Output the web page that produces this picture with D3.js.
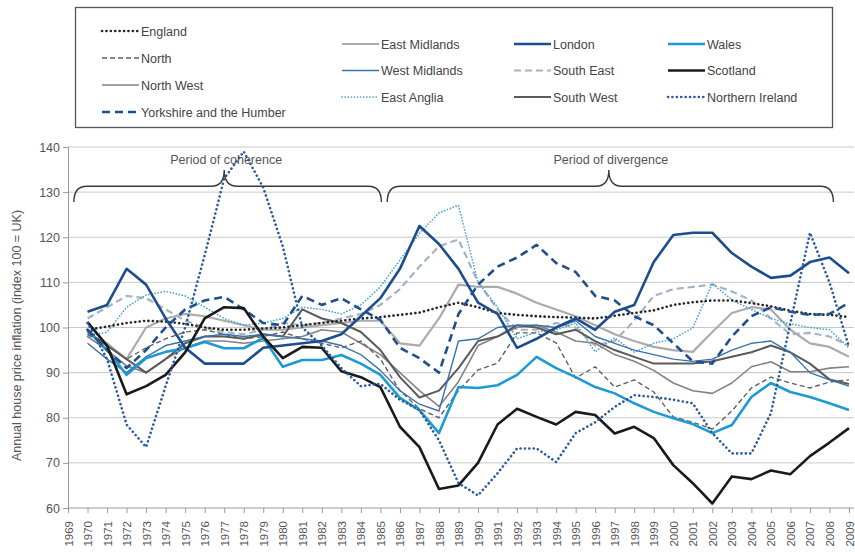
<!DOCTYPE html>
<html>
<head>
<meta charset="utf-8">
<script src="https://cdn.jsdelivr.net/npm/d3@7"></script>
<style>
  body { margin: 0; background: #fff; }
  svg text { font-family: "Liberation Sans", Arial, sans-serif; }
</style>
</head>
<body>
<div id="chart"></div>
<script>
// ---- data (index, 100 = UK) ----
const years = d3.range(1970, 2010);
const tickYears = d3.range(1969, 2010);
const yTicks = [60, 70, 80, 90, 100, 110, 120, 130, 140];

const england = [99.5,100.2,101,101.5,101.3,100.8,100,99.5,99.5,99.8, 100,100.5,101,101.5,102,102.3,102.8,103.3,104.5,105.5, 104.5,103.2,102.8,102.5,102.3,102.2,102,102.6,103.2,103.8, 105,105.6,106,106,105.4,104.7,103.7,103,102.8,102.3];
const north = [98.5,96,93,95.5,97.5,99,99.5,98.5,97.5,98, 99,97.5,96.5,95.5,97,93,86,82,80,86, 90.6,92.1,98.8,98.8,96.6,88.8,91.3,86.8,88.4,85.7, 80.2,79,77.5,81.5,86.6,89,87.7,86.6,87.9,88.4];
const northWest = [98,95,91.5,90,93,95.5,97,97,96.5,97, 97.5,98,99.5,99,96.5,94,90,86,82.5,88, 96,98,100,100.5,99,97,96.5,94,92.5,90.5, 87.7,86,85.4,87.7,91.3,92.4,90.2,90.2,91,91.3];
const yorkshire = [99.5,95,91,95,100,104,106,106.8,104,101, 100.5,107,105,106.5,104,101.7,95.5,93.2,90,103, 109.5,113.5,115.5,118.3,114.3,112.3,107,106,102.5,100.5, 96.5,92.5,92,98,102.5,104.5,103.5,102.8,103,105.5];
const eastMidlands = [98.5,96.5,93,100,102,103,102.5,101.5,100.5,99.5, 99.5,100,100.5,101,101.5,101.5,96.5,96,102,109.5, 109,109,107.5,105.5,104,102.5,100.5,98.5,97,95.7, 95,94.6,99,103.2,104.5,104,99.5,96.5,95.7,93.5];
const westMidlands = [96.5,93,90,93.5,96,97,98,98.5,98,98.5, 98,97.5,97,96,94,90.5,86,83,81.5,97, 97.5,100,100.5,100.5,100,101.5,98,96.5,95,94, 93,92.5,93,95,96.5,97,94.5,90,88.4,87];
const eastAnglia = [98,99,104.5,107.2,108,107,104.5,102,100.5,101, 102,104.5,104,103,105,109,115,120.9,125.4,127.1, 110,104.5,97.5,99,99.5,101,94.6,97.7,94.5,96.5, 97.5,99.9,109.8,106.1,104,102,100.8,100,99.5,95.5];
const london = [103.5,105,113,109.5,102,95.5,92,92,92,95.5, 96,96.5,97,98.5,102.5,106.5,113,122.5,118.5,113, 105.5,103,95.5,97.5,100,102,99.5,103.5,105,114.5, 120.5,121,121,116.5,113.5,111,111.5,114.5,115.5,112];
const southEast = [102,104.5,107,106.5,104,101.5,100,99,98.5,99.5, 101,100.5,101,102,103,105,108.5,113.5,118,119.5, 110,104,99.5,99.5,101,100,96,97,101.5,107, 108.5,109,109.5,108,106,102,98.5,98.8,98,96];
const southWest = [99,96,93,90,93,96.5,98,98,97.5,98.5, 98,104,102,101,99,95,89,84.5,86,91, 97,98,100.5,100,98.5,99.5,97,95,93.5,92, 92,92,92.5,93.5,94.5,96,94.5,92,88.5,87.5];
const wales = [99.4,95,89.5,93.2,94.6,95.4,96.8,95.4,95.4,97.7, 91.3,92.8,92.8,93.9,92,89.5,84.4,81.7,76.6,86.8, 86.6,87.2,89.5,93.5,91,89,86.8,85.4,83.2,81.3, 79.9,78.6,76.6,78.4,84.6,87.7,85.7,84.6,83.2,81.7];
const scotland = [101.2,96,85.2,87,89.5,94.5,102,104.5,104.3,98, 93.2,95.7,95.5,90.3,89,86.8,78,73.5,64.2,65, 70,78.5,82,80.2,78.5,81.3,80.6,76.5,78,75.5, 69.5,65.5,61,67,66.4,68.3,67.5,71.5,74.5,77.7];
const northernIreland = [101,93,78.5,73.5,87,100,116,133,139,131, 118,100,96,91,87,87.5,84,81.7,75,65.5, 62.8,67.7,73.2,73.2,70.2,76.6,79,82.4,85,84.6, 84,83.2,76.6,72.1,72.1,81,101,121,110,95.7];

const periods = [
    { label: 'Period of coherence', from: 1969.3, tip: 1977.0, to: 1985.05 },
    { label: 'Period of divergence', from: 1985.35, tip: 1996.7, to: 2008.2 },
];

// ---- styles (separate from data) ----
const series = [
    { name: 'England', values: england, color: '#262626', width: 2.6, dash: '0.1,4.3', cap: 'round', col: 0, row: 0 },
    { name: 'North', values: north, color: '#5f5f5f', width: 1.4, dash: '5,3', col: 0, row: 1 },
    { name: 'North West', values: northWest, color: '#838383', width: 1.6, col: 0, row: 2 },
    { name: 'Yorkshire and the Humber', values: yorkshire, color: '#1f4f8d', width: 2.6, dash: '8,5', col: 0, row: 3 },
    { name: 'East Midlands', values: eastMidlands, color: '#ababab', width: 2.2, col: 1, row: 0 },
    { name: 'West Midlands', values: westMidlands, color: '#3a72aa', width: 1.4, col: 1, row: 1 },
    { name: 'East Anglia', values: eastAnglia, color: '#4da2d6', width: 1.7, dash: '0.1,3', cap: 'round', col: 1, row: 2 },
    { name: 'London', values: london, color: '#1c4e8e', width: 2.6, col: 2, row: 0 },
    { name: 'South East', values: southEast, color: '#a5b3c4', width: 2.2, dash: '7,4', col: 2, row: 1 },
    { name: 'South West', values: southWest, color: '#5a5a5a', width: 2.0, col: 2, row: 2 },
    { name: 'Wales', values: wales, color: '#1d9ad6', width: 2.6, col: 3, row: 0 },
    { name: 'Scotland', values: scotland, color: '#1a1a1a', width: 2.6, col: 3, row: 1 },
    { name: 'Northern Ireland', values: northernIreland, color: '#2a5c9e', width: 2.6, dash: '0.1,4.3', cap: 'round', col: 3, row: 2 },
];
const drawOrder = ['East Midlands', 'South East', 'East Anglia', 'North West', 'South West', 'North',
    'West Midlands', 'Wales', 'England', 'Yorkshire and the Humber', 'London', 'Scotland', 'Northern Ireland'];

const width = 855, height = 560;
const svg = d3.select('#chart').append('svg')
    .attr('width', width)
    .attr('height', height);

const x = d3.scaleLinear().domain([1969, 2009]).range([68, 849]);
const y = d3.scaleLinear().domain([60, 140]).range([508, 147]);
const plotRight = 854;

// gridlines
svg.append('g')
    .selectAll('line')
    .data(yTicks.filter((d) => d > 60))
    .enter()
    .append('line')
    .attr('x1', x(1969))
    .attr('x2', plotRight)
    .attr('y1', (d) => y(d))
    .attr('y2', (d) => y(d))
    .attr('stroke', '#c9c9c9')
    .attr('stroke-width', 1);

// y axis
const yAxis = svg.append('g')
    .attr('transform', `translate(${x(1969)},0)`)
    .call(d3.axisLeft(y).tickValues(yTicks).tickSize(5).tickPadding(3));
yAxis.select('.domain').attr('stroke', '#9a9a9a');
yAxis.selectAll('.tick line').attr('stroke', '#9a9a9a');
yAxis.selectAll('.tick text')
    .style('font-size', '12.5px')
    .style('fill', '#555');

// x axis
const xAxis = svg.append('g')
    .attr('transform', `translate(0,${y(60)})`)
    .call(d3.axisBottom(x).tickValues(tickYears).tickFormat(d3.format('d')).tickSize(5).tickSizeOuter(0));
xAxis.select('.domain').attr('stroke', '#9a9a9a').attr('d', `M${x(1969)},0H${plotRight}`);
xAxis.selectAll('.tick line').attr('stroke', '#9a9a9a');
xAxis.selectAll('.tick text')
    .attr('transform', 'rotate(-90)')
    .attr('x', -13)
    .attr('y', 0)
    .attr('dy', '0.35em')
    .style('text-anchor', 'end')
    .style('font-size', '11.5px')
    .style('fill', '#555');

// y axis title
svg.append('text')
    .attr('transform', `translate(21,${(y(60) + y(140)) / 2 + 8}) rotate(-90)`)
    .style('text-anchor', 'middle')
    .style('font-size', '12.5px')
    .style('fill', '#555')
    .text('Annual house price inflation (index 100 = UK)');

// lines
const line = d3.line()
    .x((d, i) => x(years[i]))
    .y((d) => y(d));

const byName = new Map(series.map((s) => [s.name, s]));
svg.append('g')
    .selectAll('path')
    .data(drawOrder.map((n) => byName.get(n)))
    .enter()
    .append('path')
    .attr('d', (d) => line(d.values))
    .attr('fill', 'none')
    .attr('stroke', (d) => d.color)
    .attr('stroke-width', (d) => d.width)
    .attr('stroke-dasharray', (d) => d.dash || null)
    .attr('stroke-linecap', (d) => d.cap || 'butt')
    .attr('stroke-linejoin', 'round');

// curly brackets over the two periods
const braceBase = y(131.3), braceEnd = y(127.8), braceTip = y(134.9);
const bracePath = (p) => {
    const x0 = x(p.from), xm = x(p.tip), x1 = x(p.to);
    const r = 13;
    return `M${x0},${braceEnd} Q${x0},${braceBase} ${x0 + r},${braceBase}` +
        ` H${xm - r} Q${xm},${braceBase} ${xm},${braceTip}` +
        ` Q${xm},${braceBase} ${xm + r},${braceBase}` +
        ` H${x1 - r} Q${x1},${braceBase} ${x1},${braceEnd}`;
};
const braces = svg.append('g');
braces.selectAll('path')
    .data(periods)
    .enter()
    .append('path')
    .attr('d', bracePath)
    .attr('fill', 'none')
    .attr('stroke', '#3a3a3a')
    .attr('stroke-width', 1.4);
braces.selectAll('text')
    .data(periods)
    .enter()
    .append('text')
    .attr('x', (d) => x(d.tip) + 2)
    .attr('y', y(136.3))
    .style('text-anchor', 'middle')
    .style('font-size', '12.5px')
    .style('fill', '#555')
    .text((d) => d.label);

// legend
const legend = svg.append('g');
legend.append('rect')
    .attr('x', 75.5)
    .attr('y', 7.5)
    .attr('width', 757)
    .attr('height', 120)
    .attr('fill', '#fff')
    .attr('stroke', '#555')
    .attr('stroke-width', 1.3);
const colX = [102, 342, 514, 668];
const rowY = (d) => (d.col === 0 ? 31 + d.row * 27 : 44 + d.row * 26.5);
const items = legend.selectAll('g.item')
    .data(series)
    .enter()
    .append('g')
    .attr('class', 'item')
    .attr('transform', (d) => `translate(${colX[d.col]},${rowY(d)})`);
items.append('line')
    .attr('x1', 0)
    .attr('x2', 37)
    .attr('stroke', (d) => d.color)
    .attr('stroke-width', (d) => d.width)
    .attr('stroke-dasharray', (d) => d.dash || null)
    .attr('stroke-linecap', (d) => d.cap || 'butt');
items.append('text')
    .attr('x', 39)
    .attr('y', 4.5)
    .style('font-size', '12.5px')
    .style('fill', '#444')
    .text((d) => d.name);
</script>
</body>
</html>
